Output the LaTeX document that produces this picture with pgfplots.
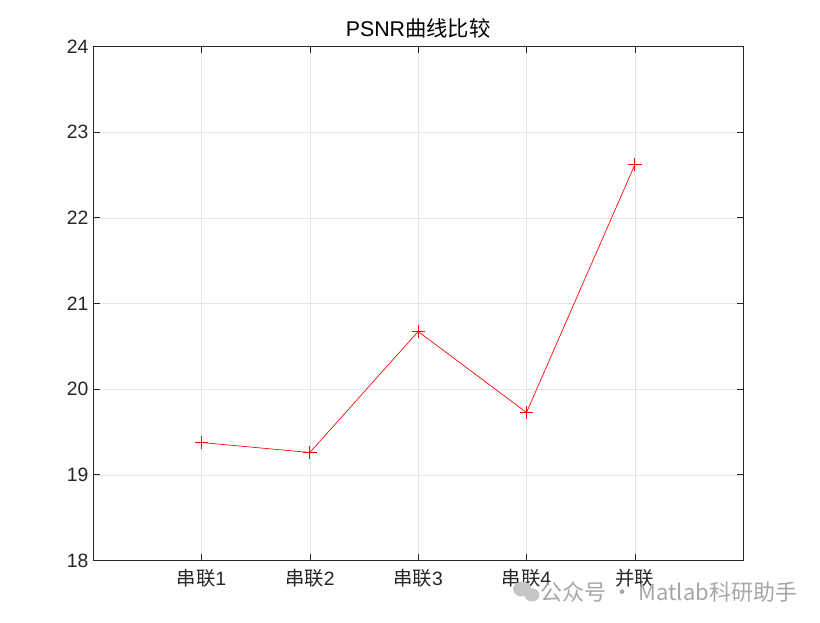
\documentclass[border=0pt]{standalone}
\usepackage{pgfplots}
\pgfplotsset{compat=1.18}
\usepackage{fontspec}
\setmainfont{Liberation Sans}
\newfontfamily\cjk{Noto Sans CJK SC}
\definecolor{tickgray}{RGB}{38,38,38}
\begin{document}
\begin{tikzpicture}[x=0.75pt,y=0.75pt]
\useasboundingbox (0,0) rectangle (820,623);
\begin{axis}[
  at={(86,73)}, anchor=south west,
  scale only axis, width=487.5pt, height=385.5pt,
  xmin=0, xmax=6, ymin=18, ymax=24,
  xtick={1,2,3,4,5},
  xticklabels={{\cjk 串联}1,{\cjk 串联}2,{\cjk 串联}3,{\cjk 串联}4,{\cjk 并联}},
  ytick={18,19,20,21,22,23,24},
  tick align=inside, tick pos=both,
  major tick length=5pt,
  grid=major,
  major grid style={draw=gray!20, line width=0.4pt},
  axis line style={draw=tickgray, line width=0.5pt},
  every tick/.style={draw=tickgray, line width=0.5pt},
  tick label style={font=\fontsize{14.5}{16}\selectfont, text=tickgray},
  xticklabel style={yshift=-3pt},
  /pgf/number format/assume math mode=true,
  title={PSNR{\cjk 曲线比较}},
  title style={font=\fontsize{16}{18}\selectfont, yshift=-3pt},
  clip=false,
]
\addplot[color=red, line width=0.5pt, mark=+, mark size=5pt, mark options={draw=red, solid, line width=0.7pt}]
  coordinates {(1,19.377) (2,19.26) (3,20.673) (4,19.727) (5,22.62)};
\end{axis}
\fill[gray!45] (522,34) ellipse (9 and 7.5);
\fill[gray!45] (532,28) ellipse (7.5 and 6.5);
\node[text=gray!70, font=\cjk\fontsize{16.5}{18}\selectfont, anchor=west] at (536,31) {公众号 · Matlab科研助手};
\end{tikzpicture}
\end{document}
